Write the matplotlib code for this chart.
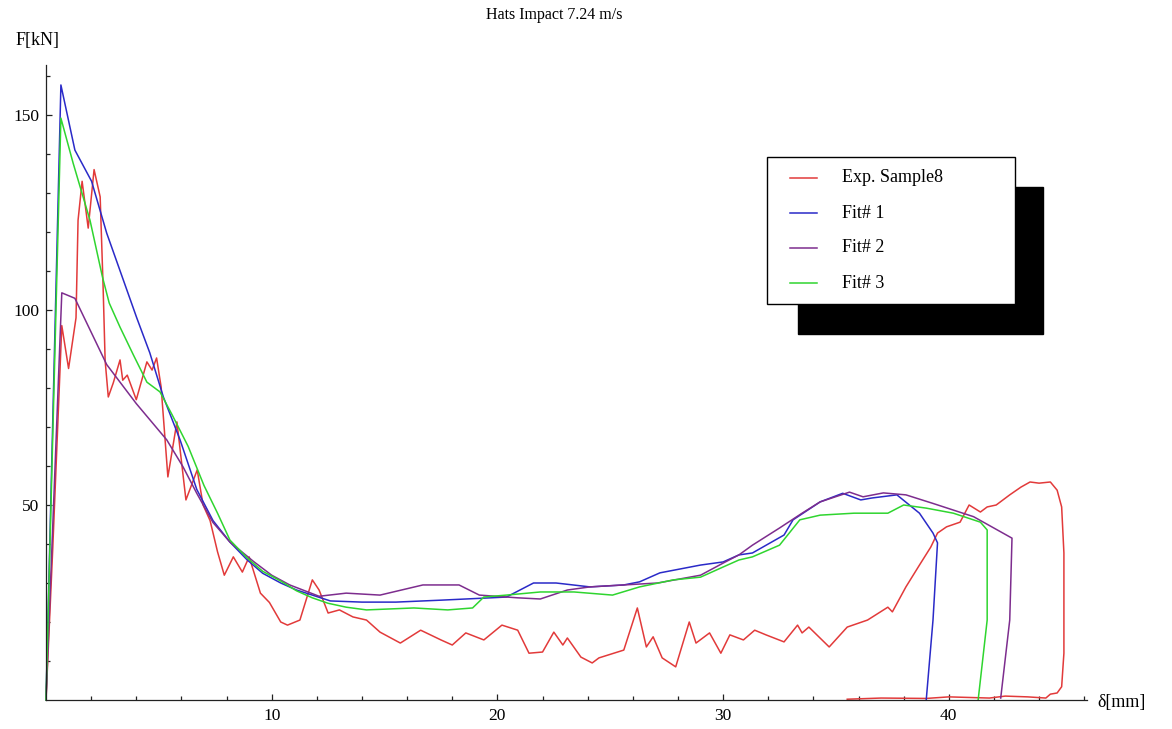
import matplotlib
matplotlib.use("Agg")
import matplotlib.pyplot as plt
from matplotlib.patches import Rectangle
from matplotlib.lines import Line2D

plt.rcParams['font.family'] = ['Liberation Serif', 'DejaVu Serif']

# ---- data: displacement [mm] and force [kN] ----
exp_x = [0, 0.3, 0.7, 1.0, 1.33, 1.42, 1.6, 1.87, 2.13, 2.4, 2.53, 2.62, 2.76, 2.98,
         3.28, 3.4, 3.6, 4.0, 4.47, 4.7, 4.9, 5.1, 5.4, 5.8, 6.2, 6.7, 6.96, 7.27,
         7.6, 7.9, 8.3, 8.7, 9.0, 9.5, 9.9, 10.4, 10.7, 11.25, 11.8, 12.1, 12.5,
         13.0, 13.6, 14.2, 14.8, 15.7, 16.6, 17.5, 18.0, 18.6, 19.4, 20.2, 20.9,
         21.4, 22.0, 22.5, 22.9, 23.1, 23.7, 24.2, 24.5, 25.6, 26.2, 26.6, 26.9,
         27.3, 27.9, 28.5, 28.8, 29.4, 29.9, 30.3, 30.9, 31.4, 31.9, 32.7, 33.3,
         33.5, 33.8, 34.7, 35.5, 36.4, 37.3, 37.5, 38.1, 38.7, 39.2, 39.5, 39.9,
         40.5, 40.9, 41.4, 41.7, 42.1, 42.7, 43.2, 43.6, 44.0, 44.5, 44.8, 45.0,
         45.1, 45.1, 45.0, 44.8, 44.5, 44.3, 43.5, 42.5, 41.8, 40.0, 39.0, 37.0, 35.5]
exp_f = [0, 39, 96, 85, 98, 123, 133, 121, 136, 129, 106, 87, 77.7, 81.3,
         87.2, 82, 83.3, 77, 86.7, 84.6, 87.7, 80.3, 57.2, 71.3, 51.3, 59, 50, 46,
         38, 32, 36.7, 32.8, 36.7, 27.4, 25, 20, 19.2, 20.5, 30.8, 28.2, 22.3,
         23.1, 21.3, 20.5, 17.4, 14.6, 17.9, 15.4, 14.1, 17.2, 15.4, 19.2, 17.9,
         12, 12.3, 17.4, 14.1, 15.9, 11, 9.5, 10.8, 12.8, 23.6, 13.6, 16.2,
         10.8, 8.5, 20, 14.6, 17.2, 12, 16.7, 15.4, 17.9, 16.7, 14.9, 19.2,
         17.2, 18.7, 13.6, 18.7, 20.5, 23.8, 22.6, 29, 34.6, 39.2, 42.8, 44.4,
         45.6, 50, 48.2, 49.5, 50, 52.6, 54.6, 55.9, 55.6, 55.9, 53.8, 49.5,
         37.7, 12, 3.4, 1.8, 1.5, 0.5, 0.8, 1.0, 0.5, 0.8, 0.4, 0.5, 0.2]

fit1_x = [0, 0.66, 1.28, 2.02, 2.69, 4.02, 4.6, 5.2, 5.94, 6.68, 7.4, 8.15, 8.9, 9.6,
          10.4, 11.1, 11.8, 12.6, 14.0, 15.5, 17.5, 19.7, 20.4, 21.6, 22.6, 24.1,
          25.6, 26.3, 27.2, 29.0, 30.0, 30.7, 31.3, 32.7, 33.1, 34.3, 35.3, 36.1,
          36.6, 37.7, 38.7, 39.3, 39.5, 39.3, 39.0]
fit1_f = [0, 157.7, 141, 133, 119.7, 98, 89, 77.7, 66.7, 54, 46, 40.5, 36, 32.5,
          30, 28.2, 26.9, 25.4, 25.1, 25.1, 25.6, 26.2, 26.4, 30, 30, 29,
          29.5, 30.3, 32.6, 34.6, 35.4, 37.2, 37.7, 42.3, 46.2, 50.8, 53, 51.3,
          51.8, 52.6, 47.9, 42.8, 40.3, 20.5, 0]

fit2_x = [0, 0.7, 1.28, 2.69, 4.0, 5.35, 6.07, 6.68, 7.4, 8.15, 9.2, 10.0, 10.8,
          12.1, 13.3, 14.8, 16.7, 18.3, 19.2, 20.9, 21.9, 23.1, 24.1, 25.6, 27.1,
          29.0, 30.0, 30.7, 31.3, 32.5, 33.5, 34.3, 35.6, 36.2, 37.1, 38.1, 39.3,
          41.1, 42.8, 42.7, 42.3]
fit2_f = [0, 104.4, 103, 86, 76, 66.7, 59.8, 53, 45.5, 40.5, 35.5, 32, 29.5,
          26.6, 27.4, 26.9, 29.5, 29.5, 26.9, 26.2, 25.9, 28.2, 29, 29.5, 30,
          32, 35.1, 37.2, 39.7, 44.1, 47.9, 50.8, 53.3, 52.1, 53.1, 52.6, 50.4,
          47, 41.5, 20.5, 0.5]

fit3_x = [0, 0.66, 1.2, 1.95, 2.5, 2.8, 3.28, 3.87, 4.47, 5.05, 5.6, 6.3, 7.0, 7.6,
          8.15, 8.9, 9.6, 10.4, 11.1, 11.8, 12.5, 13.3, 14.2, 16.3, 17.8, 18.9,
          19.4, 20.4, 21.9, 23.4, 25.1, 26.3, 27.8, 29.0, 30.0, 30.7, 31.3, 32.5,
          33.4, 34.3, 35.8, 37.3, 38.0, 39.0, 40.2, 41.4, 41.7, 41.7, 41.3]
fit3_f = [0, 149.2, 137.7, 123, 108.5, 101.8, 95.6, 88.5, 81.5, 79, 73, 65, 55, 47.9,
          41, 36.5, 33, 30.5, 28, 26.2, 24.8, 23.8, 23.1, 23.6, 23.1, 23.6,
          26.4, 26.9, 27.7, 27.7, 26.9, 29, 30.8, 31.5, 34.1, 35.9, 36.7, 39.7,
          46.2, 47.4, 47.9, 47.9, 50, 49.2, 47.9, 45.6, 43.6, 20.5, 0]

series_labels = ["Exp. Sample8", "Fit# 1", "Fit# 2", "Fit# 3"]
series_colors = ["#e23a3a", "#2a2ac8", "#7d2d8e", "#2fd52f"]
series_data = [(exp_x, exp_f), (fit1_x, fit1_f), (fit2_x, fit2_f), (fit3_x, fit3_f)]

x_major = [10, 20, 30, 40]
y_major = [50, 100, 150]

# ---- figure ----
W, H = 1172, 729
fig = plt.figure(figsize=(W / 100, H / 100), dpi=100)
fig.patch.set_facecolor("white")


def fx(px):
    return px / W


def fy(py):
    return 1 - py / H


ax = fig.add_axes([fx(46), fy(700), (1087 - 46) / W, (700 - 65) / H])
ax.set_xlim(0, (1087 - 46) / 22.57)
ax.set_ylim(0, (700 - 65) / 3.9)

for (xs, fs), c in zip(series_data, series_colors):
    ax.plot(xs, fs, color=c, lw=1.1, solid_joinstyle="round", clip_on=False)

for side in ("top", "right"):
    ax.spines[side].set_visible(False)
for side in ("left", "bottom"):
    ax.spines[side].set_linewidth(0.9)
    ax.spines[side].set_color("#222222")

ax.set_xticks(x_major)
ax.set_xticks([v for v in range(2, 47, 2) if v % 10], minor=True)
ax.set_yticks(y_major)
ax.set_yticks([v for v in range(10, 161, 10) if v % 50], minor=True)
ax.tick_params(which="both", direction="in", color="#222222", width=0.9,
               labelsize=12.5)
ax.tick_params(which="major", length=4.0)
ax.tick_params(which="minor", length=3.0)
ax.tick_params(axis="x", pad=6)
ax.tick_params(axis="y", pad=5)

# ---- texts ----
fig.text(fx(554), fy(15), "Hats Impact 7.24 m/s", ha="center", va="center",
         fontsize=11.5)
fig.text(fx(38), fy(40), "F[kN]", ha="center", va="center", fontsize=13)
fig.text(fx(1097), fy(703), "δ[mm]", ha="left", va="center", fontsize=13)

# ---- legend with drop shadow ----
fig.add_artist(Rectangle((fx(798), fy(334)), (1043 - 798) / W, (334 - 187) / H,
                         transform=fig.transFigure, facecolor="black",
                         edgecolor="black", zorder=5))
fig.add_artist(Rectangle((fx(767), fy(304)), (1015 - 767) / W, (304 - 157) / H,
                         transform=fig.transFigure, facecolor="white",
                         edgecolor="black", lw=1.0, zorder=6))
for i, (lab, c) in enumerate(zip(series_labels, series_colors)):
    yy = 178 + i * 35
    fig.add_artist(Line2D([fx(790), fx(817)], [fy(yy), fy(yy)],
                          transform=fig.transFigure, color=c, lw=1.1, zorder=7))
    fig.text(fx(842), fy(yy), lab, ha="left", va="center", fontsize=13, zorder=7)

fig.savefig("out.png", dpi=100)
